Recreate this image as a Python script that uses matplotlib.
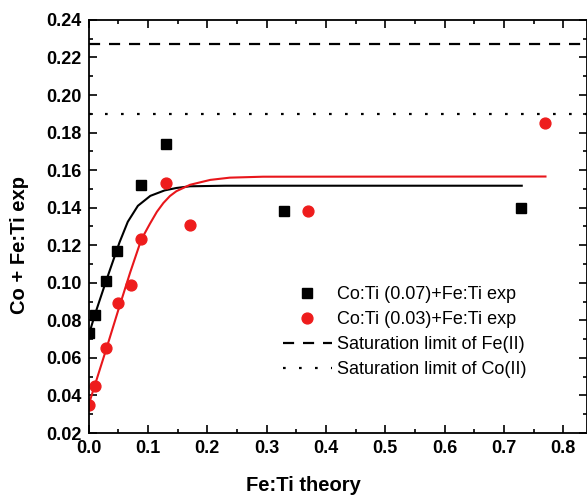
import matplotlib
matplotlib.use("Agg")
import matplotlib.pyplot as plt
from matplotlib.ticker import MultipleLocator

plt.rcParams['font.family'] = ['Liberation Sans', 'DejaVu Sans']

# experimental points, Co:Ti 0.07 series
x_co07 = [0.0, 0.011, 0.03, 0.048, 0.089, 0.13, 0.329, 0.729]
y_co07 = [0.073, 0.083, 0.101, 0.117, 0.152, 0.174, 0.138, 0.140]

# experimental points, Co:Ti 0.03 series
x_co03 = [0.0, 0.011, 0.03, 0.05, 0.071, 0.089, 0.13, 0.171, 0.37, 0.769]
y_co03 = [0.035, 0.045, 0.0655, 0.089, 0.099, 0.1235, 0.153, 0.131, 0.138, 0.185]

# fit curves
fit_x_co07 = [0.0, 0.011, 0.03, 0.041, 0.052, 0.066, 0.083, 0.104, 0.128, 0.148, 0.171, 0.23, 0.73]
fit_y_co07 = [0.072, 0.0835, 0.1015, 0.1115, 0.1215, 0.1325, 0.1410, 0.1463, 0.1492, 0.1505, 0.1514, 0.1517, 0.1517]
fit_x_co03 = [0.0, 0.03, 0.05, 0.07, 0.0887, 0.1034, 0.115, 0.126, 0.137, 0.148, 0.171, 0.205, 0.238, 0.294, 0.77]
fit_y_co03 = [0.035, 0.065, 0.0855, 0.1055, 0.1230, 0.1315, 0.1378, 0.1425, 0.1462, 0.1488, 0.1522, 0.1548, 0.1560, 0.1565, 0.1566]

# saturation limits
sat_fe = 0.227
sat_co = 0.190

fig = plt.figure(figsize=(5.87, 4.98), dpi=100)
ax = fig.add_axes([0.151, 0.1305, 0.849, 0.8295])

ax.axhline(sat_fe, color='black', lw=1.6, dashes=(5.0, 4.0), label='Saturation limit of Fe(II)')
ax.axhline(sat_co, color='black', lw=1.6, dashes=(1.2, 6.0), label='Saturation limit of Co(II)')

ax.plot(fit_x_co07, fit_y_co07, color='black', lw=1.5, solid_joinstyle='round')
ax.plot(fit_x_co03, fit_y_co03, color='#e8161b', lw=1.5, solid_joinstyle='round')

ax.plot(x_co07, y_co07, 's', color='black', ms=7.2, ls='none', label='Co:Ti (0.07)+Fe:Ti exp')
ax.plot(x_co03, y_co03, 'o', color='#ee1c1c', ms=7.8, ls='none', label='Co:Ti (0.03)+Fe:Ti exp')

ax.set_xlim(0, 0.84)
ax.set_ylim(0.02, 0.24)
ax.xaxis.set_major_locator(MultipleLocator(0.1))
ax.xaxis.set_minor_locator(MultipleLocator(0.05))
ax.yaxis.set_major_locator(MultipleLocator(0.02))
ax.yaxis.set_minor_locator(MultipleLocator(0.01))
ax.xaxis.set_major_formatter(plt.FuncFormatter(lambda v, p: '%.1f' % v))
ax.yaxis.set_major_formatter(plt.FuncFormatter(lambda v, p: '%.2f' % v))

ax.tick_params(which='both', direction='in', top=True, right=True, width=1.2)
ax.tick_params(which='major', length=6, labelsize=13, pad=5)
ax.tick_params(which='minor', length=3)
for lab in ax.get_xticklabels() + ax.get_yticklabels():
    lab.set_fontweight('bold')
for s in ax.spines.values():
    s.set_linewidth(1.3)

# axis titles placed as in the original figure
fig.text(303 / 587, 1 - 485 / 498, 'Fe:Ti theory', fontsize=14.5, fontweight='bold',
         ha='center', va='center')
fig.text(20 / 587, 1 - 245 / 498, 'Co + Fe:Ti exp', fontsize=14.5, fontweight='bold',
         ha='center', va='center', rotation=90)

handles, labels = ax.get_legend_handles_labels()
order = [2, 3, 0, 1]
ax.legend([handles[i] for i in order], [labels[i] for i in order],
          loc='upper left', bbox_to_anchor=(0.39, 0.356), frameon=False,
          fontsize=13, handlelength=2.7, handletextpad=0.3, labelspacing=0.45,
          borderaxespad=0, borderpad=0)

fig.savefig('out.png', dpi=100)
